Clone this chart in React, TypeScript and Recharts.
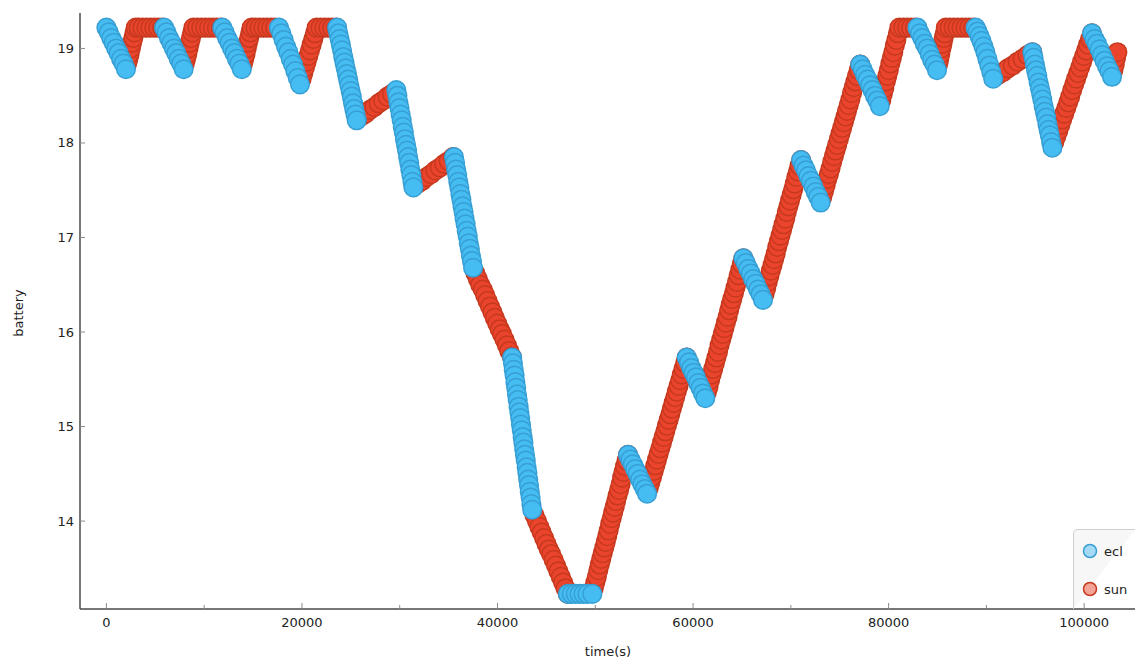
import React from "react";
import { ScatterChart, Scatter, XAxis, YAxis } from "recharts";

// time(s) ticks: every 10000, labels on the even ones
const xTicks = [0, 10000, 20000, 30000, 40000, 50000, 60000, 70000, 80000, 90000, 100000];
const yTicks = [14, 15, 16, 17, 18, 19];

// eclipse samples [time, battery]
const ecl: [number, number][] = [
  [0, 19.22], [250, 19.17], [500, 19.11], [750, 19.06], [1000, 19.0], [1250, 18.95], [1500, 18.89], [1750, 18.84], [2000, 18.78],
  [5900, 19.22], [6150, 19.17], [6400, 19.11], [6650, 19.06], [6900, 19.0], [7150, 18.95], [7400, 18.89], [7650, 18.84], [7900, 18.78],
  [11850, 19.22], [12100, 19.17], [12350, 19.11], [12600, 19.06], [12850, 19.0], [13100, 18.95], [13350, 18.89], [13600, 18.84], [13850, 18.78],
  [17650, 19.22], [17890, 19.16], [18130, 19.09], [18370, 19.02], [18610, 18.96], [18850, 18.89], [19090, 18.83], [19330, 18.76], [19570, 18.69], [19800, 18.62],
  [23600, 19.22], [23725, 19.16], [23850, 19.1], [23975, 19.04], [24100, 18.98], [24225, 18.91], [24350, 18.85], [24475, 18.79], [24600, 18.73],
  [24725, 18.67], [24850, 18.61], [24975, 18.55], [25100, 18.49], [25225, 18.42], [25350, 18.36], [25475, 18.3], [25600, 18.24],
  [29650, 18.56], [29760, 18.5], [29870, 18.43], [29980, 18.37], [30090, 18.3], [30200, 18.24], [30310, 18.17], [30420, 18.11], [30530, 18.04],
  [30640, 17.98], [30750, 17.92], [30860, 17.85], [30970, 17.79], [31080, 17.72], [31190, 17.66], [31300, 17.59], [31400, 17.53],
  [35550, 17.85], [35660, 17.79], [35770, 17.72], [35880, 17.66], [35990, 17.59], [36100, 17.53], [36200, 17.46], [36310, 17.4], [36420, 17.33], [36530, 17.27],
  [36630, 17.2], [36740, 17.14], [36850, 17.07], [36960, 17.01], [37060, 16.94], [37170, 16.88], [37280, 16.81], [37390, 16.75], [37500, 16.68],
  [41500, 15.73], [41580, 15.67], [41660, 15.6], [41750, 15.54], [41830, 15.47], [41910, 15.41], [41990, 15.34], [42070, 15.28], [42160, 15.21],
  [42240, 15.15], [42320, 15.09], [42400, 15.02], [42480, 14.96], [42570, 14.89], [42650, 14.83], [42730, 14.76], [42810, 14.7], [42890, 14.64],
  [42980, 14.57], [43060, 14.51], [43140, 14.44], [43220, 14.38], [43300, 14.31], [43390, 14.25], [43470, 14.18], [43550, 14.12],
  [47200, 13.23], [47600, 13.23], [48000, 13.23], [48400, 13.23], [48800, 13.23], [49200, 13.23], [49700, 13.23],
  [53350, 14.7], [53590, 14.65], [53840, 14.6], [54080, 14.55], [54330, 14.5], [54570, 14.44], [54810, 14.39], [55060, 14.34], [55300, 14.29],
  [59350, 15.73], [59590, 15.68], [59820, 15.62], [60060, 15.57], [60300, 15.52], [60530, 15.46], [60770, 15.41], [61010, 15.35], [61250, 15.3],
  [65150, 16.78], [65400, 16.73], [65650, 16.67], [65900, 16.62], [66150, 16.56], [66400, 16.51], [66650, 16.45], [66900, 16.4], [67150, 16.34],
  [71050, 17.82], [71300, 17.76], [71550, 17.71], [71800, 17.65], [72050, 17.6], [72300, 17.54], [72550, 17.48], [72800, 17.43], [73050, 17.37],
  [77100, 18.83], [77350, 18.78], [77600, 18.72], [77850, 18.67], [78100, 18.61], [78350, 18.56], [78600, 18.5], [78850, 18.45], [79100, 18.39],
  [82950, 19.22], [83200, 19.16], [83450, 19.11], [83700, 19.05], [83950, 19.0], [84200, 18.94], [84450, 18.88], [84700, 18.83], [84950, 18.77],
  [88900, 19.22], [89100, 19.18], [89300, 19.13], [89500, 19.08], [89700, 19.02], [89900, 18.96], [90100, 18.89], [90300, 18.82], [90500, 18.75], [90700, 18.68],
  [94700, 18.96], [94830, 18.9], [94960, 18.83], [95080, 18.77], [95210, 18.71], [95340, 18.64], [95470, 18.58], [95600, 18.52], [95720, 18.46],
  [95850, 18.39], [95980, 18.33], [96110, 18.27], [96240, 18.2], [96360, 18.14], [96490, 18.08], [96620, 18.01], [96750, 17.95],
  [100800, 19.16], [101060, 19.1], [101310, 19.05], [101570, 18.99], [101820, 18.93], [102080, 18.87], [102340, 18.81], [102590, 18.76], [102850, 18.7],
];

// sunlit samples [time, battery]
const sun: [number, number][] = [
  [2125, 18.84], [2250, 18.89], [2375, 18.94], [2500, 19.0], [2625, 19.06], [2750, 19.11], [2875, 19.17], [3000, 19.22],
  [3300, 19.22], [3700, 19.22], [4100, 19.22], [4500, 19.22], [4900, 19.22], [5300, 19.22], [5700, 19.22],
  [8025, 18.84], [8150, 18.89], [8275, 18.94], [8400, 19.0], [8525, 19.06], [8650, 19.11], [8775, 19.17], [8900, 19.22],
  [9300, 19.22], [9700, 19.22], [10100, 19.22], [10500, 19.22], [10900, 19.22], [11300, 19.22], [11700, 19.22],
  [13975, 18.84], [14100, 18.89], [14225, 18.94], [14350, 19.0], [14475, 19.06], [14600, 19.11], [14725, 19.17], [14850, 19.22],
  [15250, 19.22], [15650, 19.22], [16050, 19.22], [16450, 19.22], [16850, 19.22], [17250, 19.22],
  [19970, 18.68], [20140, 18.74], [20310, 18.8], [20480, 18.86], [20650, 18.92], [20820, 18.98], [20990, 19.04], [21160, 19.1], [21330, 19.16], [21500, 19.22],
  [21900, 19.22], [22300, 19.22], [22700, 19.22], [23100, 19.22], [23500, 19.22],
  [26050, 18.28], [26500, 18.31], [26950, 18.35], [27400, 18.38], [27850, 18.42], [28300, 18.45], [28750, 18.49], [29200, 18.52],
  [31850, 17.57], [32300, 17.6], [32750, 17.64], [33200, 17.67], [33650, 17.71], [34100, 17.74], [34550, 17.78], [35000, 17.81], [35450, 17.85],
  [37750, 16.62], [37990, 16.56], [38240, 16.5], [38490, 16.45], [38740, 16.39], [38980, 16.33], [39230, 16.27], [39480, 16.21],
  [39720, 16.15], [39970, 16.09], [40220, 16.03], [40460, 15.98], [40710, 15.92], [40960, 15.86], [41200, 15.8], [41450, 15.74],
  [43790, 14.06], [44040, 14.0], [44280, 13.94], [44520, 13.88], [44770, 13.82], [45010, 13.76], [45250, 13.7], [45490, 13.65],
  [45740, 13.59], [45980, 13.53], [46220, 13.47], [46470, 13.41], [46710, 13.35], [46950, 13.29], [47200, 13.23],
  [49850, 13.29], [50000, 13.35], [50160, 13.41], [50310, 13.48], [50460, 13.54], [50610, 13.6], [50760, 13.66], [50920, 13.72],
  [51070, 13.78], [51220, 13.84], [51370, 13.9], [51520, 13.97], [51680, 14.03], [51830, 14.09], [51980, 14.15], [52130, 14.21],
  [52280, 14.27], [52440, 14.33], [52590, 14.39], [52740, 14.46], [52890, 14.52], [53040, 14.58], [53200, 14.64], [53350, 14.7],
  [55470, 14.35], [55640, 14.41], [55810, 14.47], [55980, 14.53], [56150, 14.59], [56310, 14.65], [56480, 14.71], [56650, 14.77],
  [56820, 14.83], [56990, 14.89], [57160, 14.95], [57330, 15.01], [57500, 15.07], [57670, 15.13], [57840, 15.19], [58000, 15.25],
  [58170, 15.31], [58340, 15.37], [58510, 15.43], [58680, 15.49], [58850, 15.55], [59020, 15.61], [59190, 15.67], [59350, 15.73],
  [61410, 15.36], [61580, 15.42], [61740, 15.49], [61900, 15.55], [62060, 15.61], [62230, 15.67], [62390, 15.73], [62550, 15.79],
  [62710, 15.86], [62880, 15.92], [63040, 15.98], [63200, 16.04], [63360, 16.1], [63530, 16.16], [63690, 16.23], [63850, 16.29],
  [64010, 16.35], [64180, 16.41], [64340, 16.47], [64500, 16.53], [64660, 16.6], [64830, 16.66], [64990, 16.72], [65150, 16.78],
  [67310, 16.4], [67480, 16.46], [67640, 16.53], [67800, 16.59], [67960, 16.65], [68130, 16.71], [68290, 16.77], [68450, 16.83],
  [68610, 16.9], [68780, 16.96], [68940, 17.02], [69100, 17.08], [69260, 17.14], [69430, 17.2], [69590, 17.27], [69750, 17.33],
  [69910, 17.39], [70080, 17.45], [70240, 17.51], [70400, 17.57], [70560, 17.64], [70730, 17.7], [70890, 17.76], [71050, 17.82],
  [73220, 17.43], [73390, 17.49], [73560, 17.55], [73730, 17.62], [73890, 17.67], [74060, 17.73], [74230, 17.8], [74400, 17.86],
  [74570, 17.92], [74740, 17.98], [74910, 18.04], [75080, 18.1], [75250, 18.16], [75420, 18.22], [75590, 18.28], [75750, 18.34],
  [75920, 18.4], [76090, 18.46], [76260, 18.53], [76430, 18.59], [76600, 18.65], [76770, 18.71], [76940, 18.77], [77100, 18.83],
  [79250, 18.45], [79410, 18.52], [79560, 18.58], [79720, 18.65], [79870, 18.71], [80020, 18.77], [80180, 18.84], [80330, 18.9],
  [80480, 18.96], [80640, 19.03], [80790, 19.09], [80950, 19.16], [81100, 19.22], [81500, 19.22], [81900, 19.22], [82300, 19.22], [82700, 19.22],
  [85060, 18.83], [85170, 18.88], [85290, 18.94], [85400, 19.0], [85510, 19.05], [85630, 19.11], [85740, 19.16], [85850, 19.22],
  [86250, 19.22], [86650, 19.22], [87050, 19.22], [87450, 19.22], [87850, 19.22], [88250, 19.22], [88650, 19.22],
  [91200, 18.72], [91700, 18.75], [92200, 18.79], [92700, 18.82], [93200, 18.86], [93700, 18.89], [94200, 18.93], [94700, 18.96],
  [96950, 18.01], [97160, 18.07], [97360, 18.13], [97560, 18.19], [97760, 18.25], [97960, 18.31], [98170, 18.37], [98370, 18.43],
  [98570, 18.49], [98780, 18.56], [98980, 18.62], [99180, 18.68], [99380, 18.74], [99590, 18.8], [99790, 18.86], [99990, 18.92],
  [100190, 18.98], [100400, 19.04], [100600, 19.1], [100800, 19.16],
  [102990, 18.77], [103130, 18.83], [103260, 18.9], [103400, 18.96],
];

const eclData = ecl.map(([t, v]) => ({ t, v }));
const sunData = sun.map(([t, v]) => ({ t, v }));

const FONT = "'DejaVu Sans', Verdana, sans-serif";
const BLUE = "#45bdf3";
const BLUE_EDGE = "#379fd3";
const RED = "#ea452c";
const RED_EDGE = "#c6391f";

const XTick = (props: any) => {
  const { x, y, payload } = props;
  const major = payload.value % 20000 === 0;
  return (
    <g>
      <line x1={x} x2={x} y1={y} y2={y - (major ? 6 : 4)} stroke="#8c8c8c" />
      {major && (
        <text x={x} y={y + 13} textAnchor="middle" dominantBaseline="central" fontSize={13} fill="#222">
          {payload.value}
        </text>
      )}
    </g>
  );
};

const YTick = (props: any) => {
  const { x, y, payload } = props;
  return (
    <g>
      <line x1={x} x2={x + 5} y1={y} y2={y} stroke="#8c8c8c" />
      <text x={x - 6} y={y} textAnchor="end" dominantBaseline="central" fontSize={13} fill="#222">
        {payload.value}
      </text>
    </g>
  );
};

const dot = (fill: string, stroke: string) => (p: any) =>
  <circle cx={p.cx} cy={p.cy} r={9.3} fill={fill} stroke={stroke} strokeWidth={1.5} />;

export default function App() {
  return (
    <div style={{ position: "absolute", left: 0, top: 0, width: 1135, height: 661, background: "#fff", fontFamily: FONT }}>
      <ScatterChart width={1135} height={661} margin={{ top: 13, right: 0, bottom: 22, left: 20 }} style={{ fontFamily: FONT }}>
        <XAxis
          type="number"
          dataKey="t"
          domain={[-2700, 105200]}
          allowDataOverflow
          ticks={xTicks}
          tick={<XTick />}
          tickSize={0}
          tickMargin={0}
          tickLine={false}
          height={30}
          axisLine={{ stroke: "#4a4a4a", strokeWidth: 1.5 }}
          label={() => (
            <text x={608} y={651} textAnchor="middle" dominantBaseline="central" fontSize={13} fill="#222">
              time(s)
            </text>
          )}
        />
        <YAxis
          type="number"
          dataKey="v"
          domain={[13.07, 19.375]}
          allowDataOverflow
          ticks={yTicks}
          tick={<YTick />}
          tickSize={0}
          tickMargin={0}
          tickLine={false}
          width={60}
          axisLine={{ stroke: "#4a4a4a", strokeWidth: 1.5 }}
          label={() => (
            <text x={18} y={313} transform="rotate(-90 18 313)" textAnchor="middle" dominantBaseline="central" fontSize={13} fill="#222">
              battery
            </text>
          )}
        />
        <Scatter name="sun" data={sunData} shape={dot(RED, RED_EDGE)} isAnimationActive={false} />
        <Scatter name="ecl" data={eclData} shape={dot(BLUE, BLUE_EDGE)} isAnimationActive={false} />
      </ScatterChart>
      <svg style={{ position: "absolute", left: 1073, top: 529 }} width={62} height={80}>
        <path d="M0.5 80 V5 Q0.5 0.5 5 0.5 H62" fill="#f7f7f7" stroke="#cfcfcf" />
        <circle cx={17} cy={22} r={6.5} fill="#a4daf5" stroke={BLUE_EDGE} strokeWidth={1.5} />
        <text x={31} y={22} dominantBaseline="central" fontSize={13} fill="#222" fontFamily={FONT}>ecl</text>
        <circle cx={17} cy={60} r={6.5} fill="#f2a597" stroke={RED_EDGE} strokeWidth={1.5} />
        <text x={31} y={60} dominantBaseline="central" fontSize={13} fill="#222" fontFamily={FONT}>sun</text>
      </svg>
    </div>
  );
}
